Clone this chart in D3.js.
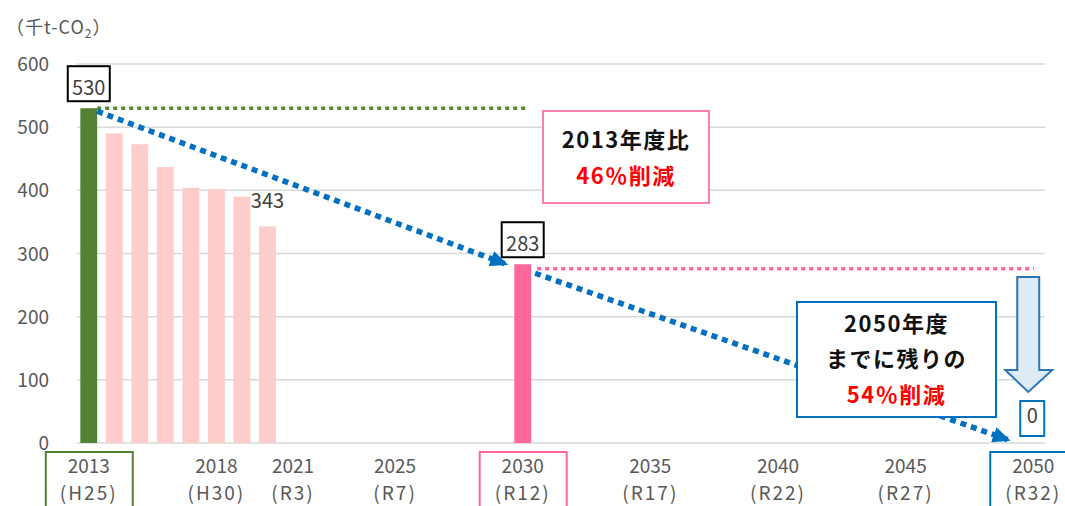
<!DOCTYPE html>
<html>
<head>
<meta charset="utf-8">
<script src="https://cdn.jsdelivr.net/npm/d3@7"></script>
<style>
  body { margin: 0; background: #fff; }
  svg { display: block; }
  text { font-family: 'Liberation Sans Narrow', 'Noto Sans CJK JP', sans-serif; }
</style>
</head>
<body>
<svg id="chart" width="1065" height="506"></svg>
<script>
// categories: every fiscal year on the axis
var years = [2013, 2014, 2015, 2016, 2017, 2018, 2019, 2020, 2021, 2022, 2023, 2024, 2025,
  2026, 2027, 2028, 2029, 2030, 2031, 2032, 2033, 2034, 2035, 2036, 2037, 2038, 2039,
  2040, 2041, 2042, 2043, 2044, 2045, 2046, 2047, 2048, 2049, 2050];

// emissions (thousand t-CO2)
var baseYear = 2013, baseValue = 530;
var actualYears = [2014, 2015, 2016, 2017, 2018, 2019, 2020];
var actualValues = [490, 473, 437, 404, 402, 390, 343];
var targetYear = 2030, targetValue = 283;
var goalYear = 2050, goalValue = 0;
var targetLevel = 276;   // pink dotted reference line

var yTicks = [0, 100, 200, 300, 400, 500, 600];
var tickYears = [2013, 2018, 2021, 2025, 2030, 2035, 2040, 2045, 2050];
var tickEras = ["(H25)", "(H30)", "(R3)", "(R7)", "(R12)", "(R17)", "(R22)", "(R27)", "(R32)"];

var GREEN = "#548235", PINK = "#FF6699", LIGHTPINK = "#FFCCCC", BLUE = "#0070C0";
var GRAY = "#595959";

var svg = d3.select("#chart");

var x = d3.scaleBand().domain(years).range([76, 1046]).paddingInner(0.34).paddingOuter(0.17);
var y = d3.scaleLinear().domain([0, 600]).range([443, 64]);
var bw = x.bandwidth();
var cx = function(yr) { return x(yr) + bw / 2; };

// unit label
svg.append("text")
  .attr("x", 6).attr("y", 34)
  .attr("fill", GRAY).attr("font-size", 18).attr("letter-spacing", 1)
  .html('（千t-CO<tspan font-size="12" dy="4">2</tspan><tspan dy="-4">）</tspan>');

// gridlines + y labels
svg.append("g").selectAll("line").data(yTicks).enter().append("line")
  .attr("x1", 77).attr("x2", 1045)
  .attr("y1", function(d) { return y(d); }).attr("y2", function(d) { return y(d); })
  .attr("stroke", "#D9D9D9").attr("stroke-width", 1.5);

svg.append("g").selectAll("text").data(yTicks).enter().append("text")
  .attr("x", 49).attr("y", function(d) { return y(d) + 7; })
  .attr("text-anchor", "end").attr("fill", GRAY).attr("font-size", 19)
  .text(function(d) { return d; });

// bars
svg.append("rect")
  .attr("x", x(baseYear)).attr("y", y(baseValue))
  .attr("width", bw).attr("height", y(0) - y(baseValue)).attr("fill", GREEN);

svg.append("g").selectAll("rect").data(actualYears).enter().append("rect")
  .attr("x", function(d) { return x(d); })
  .attr("y", function(d, i) { return y(actualValues[i]); })
  .attr("width", bw)
  .attr("height", function(d, i) { return y(0) - y(actualValues[i]); })
  .attr("fill", LIGHTPINK);

svg.append("rect")
  .attr("x", x(targetYear)).attr("y", y(targetValue))
  .attr("width", bw).attr("height", y(0) - y(targetValue)).attr("fill", PINK);

// label for the last actual year
var lastI = actualYears.length - 1;
svg.append("text")
  .attr("x", cx(actualYears[lastI])).attr("y", y(actualValues[lastI]) - 18)
  .attr("text-anchor", "middle").attr("fill", "#404040").attr("font-size", 20)
  .text(actualValues[lastI]);

// boxed value labels
function boxLabel(yr, v, w) {
  var bx = cx(yr) - w / 2, by = y(v) - 42;
  svg.append("rect").attr("x", bx).attr("y", by).attr("width", w).attr("height", 35)
    .attr("fill", "#fff").attr("stroke", "#000").attr("stroke-width", 2);
  svg.append("text").attr("x", cx(yr)).attr("y", by + 29)
    .attr("text-anchor", "middle").attr("fill", "#404040").attr("font-size", 20)
    .text(v);
}
boxLabel(baseYear, baseValue, 42);
boxLabel(targetYear, targetValue, 42);

// horizontal dotted references
svg.append("line")
  .attr("x1", x(baseYear) + bw).attr("x2", 528)
  .attr("y1", y(baseValue)).attr("y2", y(baseValue))
  .attr("stroke", GREEN).attr("stroke-width", 3.5).attr("stroke-dasharray", "4 4");
svg.append("line")
  .attr("x1", x(targetYear) + bw + 6).attr("x2", 1034)
  .attr("y1", y(targetLevel)).attr("y2", y(targetLevel))
  .attr("stroke", PINK).attr("stroke-width", 3.5).attr("stroke-dasharray", "4 4");

// blue dashed trend arrows
svg.append("defs").append("marker")
  .attr("id", "tri").attr("markerUnits", "userSpaceOnUse")
  .attr("viewBox", "0 0 18 16").attr("refX", 16).attr("refY", 8)
  .attr("markerWidth", 18).attr("markerHeight", 16).attr("orient", "auto")
  .append("path").attr("d", "M0,0 L18,8 L0,16 Z").attr("fill", BLUE);

svg.append("line")
  .attr("x1", x(baseYear) + bw).attr("y1", y(baseValue) + 3)
  .attr("x2", x(targetYear) - 8).attr("y2", y(targetValue))
  .attr("stroke", BLUE).attr("stroke-width", 5.5).attr("stroke-dasharray", "6 5")
  .attr("marker-end", "url(#tri)");
svg.append("line")
  .attr("x1", x(targetYear) + bw + 4).attr("y1", y(targetValue) + 9)
  .attr("x2", x(goalYear) - 16).attr("y2", y(goalValue) - 3)
  .attr("stroke", BLUE).attr("stroke-width", 5.5).attr("stroke-dasharray", "6 5")
  .attr("marker-end", "url(#tri)");

// block arrow down to 2050
var ax = cx(goalYear) - 5;
svg.append("path")
  .attr("d", "M" + (ax - 11) + ",277 H" + (ax + 11) + " V370 H" + (ax + 24) +
    " L" + ax + ",392 L" + (ax - 23) + ",370 H" + (ax - 11) + " Z")
  .attr("fill", "#DEEBF7").attr("stroke", "#2E75B6").attr("stroke-width", 2);

// goal "0" box
svg.append("rect").attr("x", cx(goalYear) - 13).attr("y", y(goalValue) - 42)
  .attr("width", 24).attr("height", 35)
  .attr("fill", "#fff").attr("stroke", BLUE).attr("stroke-width", 2);
svg.append("text").attr("x", cx(goalYear) - 1).attr("y", y(goalValue) - 20)
  .attr("text-anchor", "middle").attr("fill", "#404040").attr("font-size", 20)
  .text(goalValue);

// x axis labels
var xl = svg.append("g").selectAll("g").data(tickYears).enter().append("g");
xl.append("text")
  .attr("x", function(d) { return cx(d); }).attr("y", 473)
  .attr("text-anchor", "middle").attr("fill", GRAY).attr("font-size", 19)
  .text(function(d) { return d; });
xl.append("text")
  .attr("x", function(d) { return cx(d); }).attr("y", 500)
  .attr("text-anchor", "middle").attr("fill", GRAY).attr("font-size", 19)
  .attr("letter-spacing", 2)
  .text(function(d, i) { return tickEras[i]; });

// highlight boxes around key years
[[baseYear, GREEN], [targetYear, PINK], [goalYear, BLUE]].forEach(function(p) {
  svg.append("rect")
    .attr("x", cx(p[0]) - 43).attr("y", 452).attr("width", 87).attr("height", 70)
    .attr("fill", "none").attr("stroke", p[1]).attr("stroke-width", 2);
});

// annotation boxes
function note(bx, by, w, h, lines) {
  svg.append("rect").attr("x", bx).attr("y", by).attr("width", w).attr("height", h)
    .attr("fill", "#fff").attr("stroke", lines.stroke).attr("stroke-width", 2);
  lines.rows.forEach(function(r) {
    svg.append("text").attr("x", bx + w / 2).attr("y", r.y)
      .attr("text-anchor", "middle").attr("font-size", 22).attr("font-weight", "bold")
      .attr("letter-spacing", 1.5).attr("fill", r.c).text(r.t);
  });
}
note(543, 111, 166, 92, { stroke: "#FF7FAA", rows: [
  { t: "2013年度比", y: 148, c: "#111" },
  { t: "46％削減", y: 184, c: "#FF0000" }] });
note(797, 302, 199, 115, { stroke: BLUE, rows: [
  { t: "2050年度", y: 332, c: "#111" },
  { t: "までに残りの", y: 367, c: "#111" },
  { t: "54％削減", y: 403, c: "#FF0000" }] });
</script>
</body>
</html>
